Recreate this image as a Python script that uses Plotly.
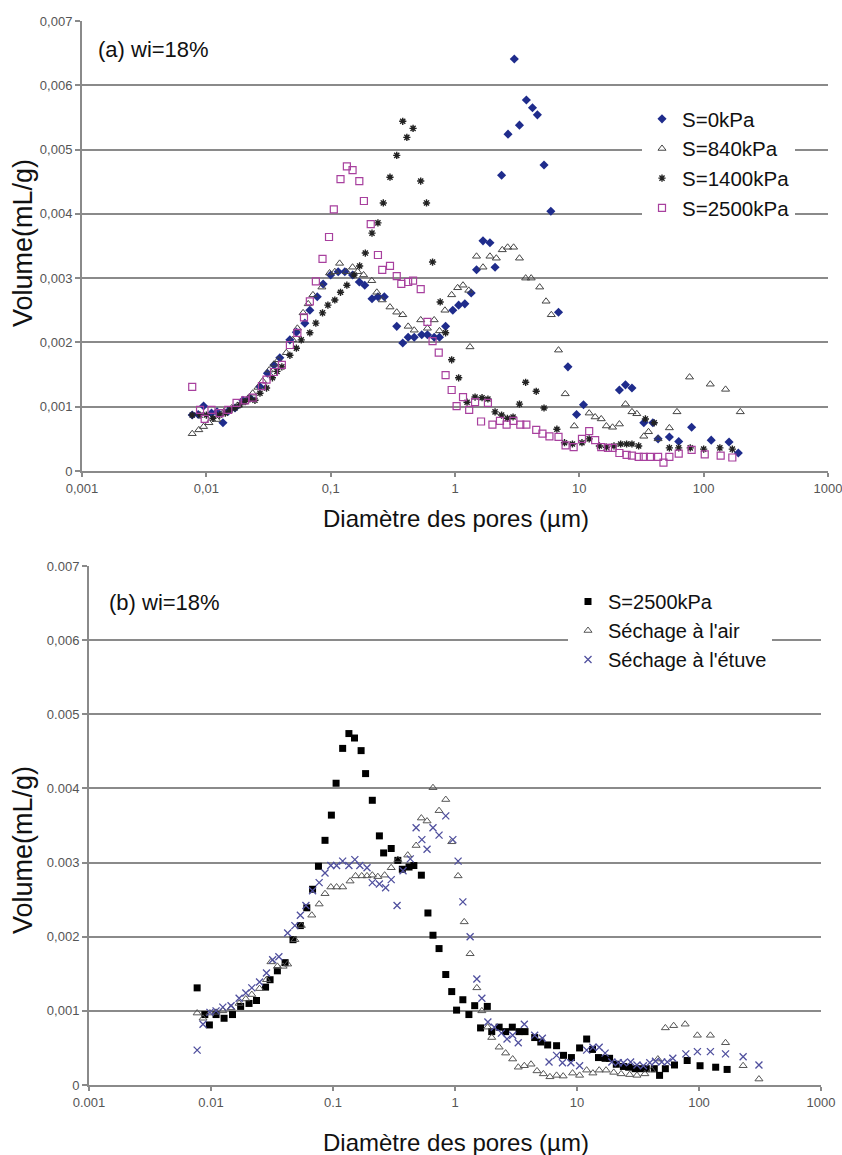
import numpy as np
import plotly.graph_objects as go

# ---------------- Data (volume values in 10^-3 mL/g) ----------------
# (a) S = 0 kPa
s0_d = [0.0077, 0.0086, 0.0095, 0.011, 0.0122, 0.0136, 0.015, 0.017, 0.0197, 0.0224, 0.027, 0.031, 0.035,
        0.039, 0.047, 0.053, 0.062, 0.068, 0.078, 0.087, 0.1, 0.115, 0.13, 0.15, 0.17, 0.188, 0.215, 0.24,
        0.27, 0.34, 0.38, 0.42, 0.47, 0.54, 0.6, 0.68, 0.75, 0.84, 0.96, 1.07, 1.2, 1.35, 1.49, 1.68, 1.91,
        2.1, 2.37, 2.67, 3.0, 3.3, 3.75, 4.2, 4.6, 5.2, 5.9, 6.8, 8.1, 9.5, 10.8, 21, 23.5, 26.5, 33, 39,
        43, 53, 63, 80, 115, 160, 190]
s0_v = [0.87, 0.88, 1.01, 0.90, 0.92, 0.75, 0.93, 0.98, 1.10, 1.14, 1.31, 1.52, 1.65,
        1.76, 2.04, 2.16, 2.30, 2.50, 2.71, 2.91, 3.05, 3.10, 3.10, 3.05, 2.94, 2.89, 2.68, 2.71,
        2.71, 2.25, 1.99, 2.08, 2.08, 2.12, 2.12, 2.08, 2.08, 2.25, 2.50, 2.58, 2.60, 2.77, 3.13, 3.58, 3.55,
        3.17, 4.60, 5.24, 6.41, 5.38, 5.77, 5.65, 5.54, 4.76, 4.04, 2.47, 1.62, 0.88, 1.03, 1.26, 1.34, 1.29, 0.75, 0.75,
        0.50, 0.53, 0.46, 0.68, 0.48, 0.45, 0.28]

# (a) S = 840 kPa
s840_d = [0.0077, 0.0087, 0.0095, 0.0105, 0.0121, 0.0138, 0.016, 0.0178, 0.0197, 0.0216, 0.0236, 0.026,
          0.0284, 0.032, 0.035, 0.038, 0.044, 0.0495, 0.054, 0.06, 0.066, 0.072, 0.085, 0.098, 0.108,
          0.118, 0.134, 0.15, 0.165, 0.184, 0.214, 0.235, 0.26, 0.3, 0.34, 0.38, 0.42, 0.47, 0.53, 0.6,
          0.68, 0.75, 0.83, 0.94, 1.05, 1.16, 1.29, 1.32, 1.49, 1.68, 1.91, 2.15, 2.4, 2.65, 2.96, 3.3, 3.7,
          4.1, 4.8, 5.4, 5.95, 6.8, 7.7, 9.1, 12, 13.4, 15, 16.5, 18.5, 21, 23.5, 26.5, 29, 33, 36, 43,
          53, 61, 77, 113, 150, 197]
s840_v = [0.58, 0.64, 0.69, 0.75, 0.80, 0.92, 0.98, 1.02, 1.07, 1.13, 1.21, 1.30,
          1.40, 1.57, 1.66, 1.73, 1.84, 2.04, 2.22, 2.46, 2.60, 2.74, 2.86, 3.08, 3.10,
          3.23, 3.10, 3.17, 3.10, 3.05, 2.96, 2.78, 2.66, 2.55, 2.47, 2.43, 2.25, 2.19, 2.35, 2.22,
          2.35, 2.18, 2.50, 2.74, 2.85, 2.89, 2.81, 1.93, 3.34, 3.17, 3.34, 3.31, 3.44, 3.48, 3.48, 3.31, 3.00,
          3.00, 2.86, 2.64, 2.43, 1.88, 1.20, 0.70, 0.90, 0.84, 0.81, 0.70, 0.68, 0.73, 1.04, 0.92, 0.89, 0.54, 0.61, 0.50,
          0.67, 0.92, 1.46, 1.35, 1.27, 0.92]

# (a) S = 1400 kPa
s1400_d = [0.0077, 0.0089, 0.01, 0.0113, 0.0128, 0.0142, 0.0155, 0.017, 0.0186, 0.0205, 0.0224, 0.0246,
           0.027, 0.0305, 0.034, 0.037, 0.0405, 0.047, 0.053, 0.058, 0.068, 0.076, 0.086, 0.095, 0.108,
           0.12, 0.135, 0.154, 0.171, 0.19, 0.215, 0.24, 0.265, 0.3, 0.34, 0.38, 0.41, 0.46, 0.53, 0.59,
           0.66, 0.76, 0.84, 0.94, 1.07, 1.25, 1.45, 1.65, 1.84, 2.1, 2.37, 2.64, 2.93, 3.3, 3.7, 4.5, 5.2,
           6.6, 7.6, 8.8, 10.5, 12, 14.5, 16.5, 19, 21.5, 24, 26.5, 30, 34, 40, 53, 63, 78, 100, 135, 170]
s1400_v = [0.87, 0.87, 0.87, 0.82, 0.87, 0.90, 0.95, 0.98, 1.03, 1.08, 1.12, 1.10,
           1.21, 1.29, 1.45, 1.55, 1.62, 1.80, 1.91, 2.04, 2.15, 2.30, 2.46, 2.58, 2.66,
           2.78, 2.89, 3.05, 3.19, 3.39, 3.70, 3.86, 4.17, 4.57, 4.91, 5.44, 5.19, 5.33, 4.51, 4.17,
           3.25, 2.63, 2.15, 1.73, 1.45, 1.07, 1.15, 1.14, 1.12, 0.92, 0.87, 0.82, 0.84, 1.04, 1.38, 1.24, 0.98,
           0.65, 0.44, 0.42, 0.44, 0.50, 0.39, 0.37, 0.39, 0.42, 0.42, 0.42, 0.39, 0.81, 0.75, 0.36, 0.36, 0.36, 0.34, 0.36, 0.34]

# S = 2500 kPa (same measurement in (a) and (b))
s2500_d = [0.0077, 0.0089, 0.0097, 0.011, 0.0128, 0.015, 0.0175, 0.0205, 0.0236, 0.028, 0.0305, 0.035,
           0.0405, 0.047, 0.054, 0.061, 0.068, 0.076, 0.086, 0.097, 0.106, 0.12, 0.135, 0.15, 0.17, 0.185,
           0.21, 0.24, 0.26, 0.3, 0.34, 0.37, 0.42, 0.46, 0.53, 0.6, 0.66, 0.74, 0.84, 0.94, 1.03, 1.16,
           1.3, 1.45, 1.62, 1.84, 2.0, 2.3, 2.6, 2.95, 3.35, 3.75, 4.5, 5.05, 5.75, 6.8, 7.75, 9, 10.5, 12,
           13.4, 15, 17, 18.5, 21, 24, 26.5, 30, 33, 37, 43, 47.5, 53, 63, 80, 102, 137, 170]
s2500_v = [1.31, 0.95, 0.81, 0.95, 0.90, 0.95, 1.06, 1.10, 1.14, 1.32, 1.42, 1.54,
           1.65, 1.96, 2.15, 2.39, 2.64, 2.95, 3.30, 3.64, 4.07, 4.54, 4.74, 4.68, 4.51, 4.20,
           3.84, 3.36, 3.13, 3.19, 3.03, 2.91, 2.94, 2.96, 2.83, 2.32, 2.02, 1.84, 1.49, 1.26, 1.01, 1.15,
           0.95, 1.07, 0.77, 1.06, 0.72, 0.78, 0.72, 0.78, 0.72, 0.72, 0.64, 0.58, 0.54, 0.53, 0.40, 0.37, 0.50, 0.62,
           0.48, 0.37, 0.36, 0.36, 0.28, 0.25, 0.24, 0.22, 0.22, 0.22, 0.22, 0.13, 0.22, 0.27, 0.33, 0.26, 0.24, 0.21]

# (b) Séchage à l'air
air_d = [0.0077, 0.0086, 0.0098, 0.011, 0.0125, 0.0146, 0.017, 0.0193, 0.0216, 0.025, 0.0285, 0.031,
         0.035, 0.039, 0.0425, 0.0487, 0.055, 0.067, 0.077, 0.086, 0.096, 0.107, 0.12, 0.138, 0.153, 0.172,
         0.19, 0.21, 0.233, 0.265, 0.3, 0.34, 0.41, 0.48, 0.53, 0.59, 0.66, 0.74, 0.84, 0.94, 1.06, 1.19,
         1.33, 1.51, 1.66, 1.85, 2.0, 2.3, 2.6, 2.97, 3.3, 3.7, 4.2, 4.7, 5.3, 6.0, 6.8, 7.7, 9.2, 10.5, 12,
         13.5, 15.2, 17.3, 20, 23, 27, 31, 36, 41, 46, 53, 62, 77, 97, 124, 165, 230, 310]
air_v = [0.97, 0.90, 0.97, 0.98, 1.00, 1.04, 1.10, 1.16, 1.22, 1.30, 1.42, 1.66,
         1.60, 1.60, 1.63, 1.96, 2.15, 2.29, 2.44, 2.58, 2.67, 2.67, 2.67, 2.75, 2.82, 2.82,
         2.82, 2.83, 2.81, 2.83, 2.93, 3.04, 3.10, 3.23, 3.60, 3.56, 4.01, 3.70, 3.85, 3.28, 2.82, 2.20,
         1.77, 1.31, 1.00, 0.78, 0.64, 0.51, 0.43, 0.35, 0.24, 0.26, 0.28, 0.19, 0.15, 0.11, 0.13, 0.12, 0.16, 0.13, 0.20,
         0.16, 0.20, 0.20, 0.17, 0.15, 0.14, 0.13, 0.15, 0.20, 0.35, 0.77, 0.80, 0.82, 0.67, 0.67, 0.57, 0.26, 0.08]

# (b) Séchage à l'étuve
etuve_d = [0.0077, 0.0086, 0.0098, 0.011, 0.0125, 0.0146, 0.017, 0.0193, 0.0216, 0.025, 0.0285, 0.032,
           0.036, 0.0425, 0.0487, 0.054, 0.06, 0.068, 0.077, 0.086, 0.096, 0.107, 0.12, 0.135, 0.151, 0.166,
           0.19, 0.21, 0.24, 0.27, 0.3, 0.335, 0.375, 0.43, 0.48, 0.535, 0.59, 0.66, 0.74, 0.84, 0.96, 1.06,
           1.16, 1.33, 1.51, 1.66, 1.86, 2.1, 2.4, 2.67, 2.97, 3.3, 3.7, 4.5, 5.2, 5.9, 6.8, 7.6, 8.9, 10.5,
           12, 13.5, 15.2, 17, 19.3, 21.8, 24, 27.5, 31, 35, 39.5, 44, 49.5, 55, 61, 78, 97, 124, 165, 230, 310]
etuve_v = [0.47, 0.82, 0.98, 1.00, 1.05, 1.07, 1.17, 1.24, 1.31, 1.39, 1.51, 1.69,
           1.73, 2.05, 2.15, 2.29, 2.42, 2.62, 2.73, 2.86, 2.96, 2.96, 3.02, 2.96, 3.04, 2.96,
           2.93, 2.73, 2.71, 2.66, 2.77, 2.42, 2.89, 3.05, 3.47, 3.31, 3.18, 3.47, 3.37, 3.63, 3.31, 3.02,
           2.47, 2.00, 1.43, 1.17, 0.85, 0.78, 0.70, 0.62, 0.67, 0.57, 0.82, 0.67, 0.63, 0.31, 0.40, 0.30, 0.30, 0.26,
           0.47, 0.51, 0.51, 0.43, 0.31, 0.30, 0.30, 0.31, 0.27, 0.26, 0.30, 0.32, 0.31, 0.31, 0.36, 0.42, 0.45, 0.45, 0.42, 0.38, 0.27]

x_tickvals = [0.001, 0.01, 0.1, 1, 10, 100, 1000]
x_ticktext_a = ["0,001", "0,01", "0,1", "1", "10", "100", "1000"]
x_ticktext_b = ["0.001", "0.01", "0.1", "1", "10", "100", "1000"]
y_tickvals = [0, 0.001, 0.002, 0.003, 0.004, 0.005, 0.006, 0.007]
y_ticktext_a = ["0", "0,001", "0,002", "0,003", "0,004", "0,005", "0,006", "0,007"]
y_ticktext_b = ["0", "0,001", "0,002", "0.003", "0.004", "0.005", "0,006", "0.007"]

x_title = "Diamètre des pores (µm)"
y_title = "Volume(mL/g)"

FONT = "Liberation Sans, Arial, sans-serif"
W, H = 842, 1155


def m(v):
    return np.array(v) * 1e-3


fig = go.Figure()

# ---- panel (a)
fig.add_trace(go.Scatter(x=s0_d, y=m(s0_v), mode="markers", name="S=0kPa", xaxis="x", yaxis="y",
                         legend="legend",
                         marker=dict(symbol="diamond", size=7, color="#1f2c8c")))
fig.add_trace(go.Scatter(x=s840_d, y=m(s840_v), mode="markers", name="S=840kPa", xaxis="x", yaxis="y",
                         legend="legend",
                         marker=dict(symbol="triangle-up-open", size=7, color="#444444",
                                     line=dict(width=1, color="#444444"))))
fig.add_trace(go.Scatter(x=s1400_d, y=m(s1400_v), mode="markers", name="S=1400kPa", xaxis="x", yaxis="y",
                         legend="legend",
                         marker=dict(symbol="asterisk-open", size=6, color="#222222",
                                     line=dict(width=1.4, color="#222222"))))
fig.add_trace(go.Scatter(x=s2500_d, y=m(s2500_v), mode="markers", name="S=2500kPa", xaxis="x", yaxis="y",
                         legend="legend",
                         marker=dict(symbol="square-open", size=7, color="#a8409e",
                                     line=dict(width=1.2, color="#a8409e"))))

# ---- panel (b)
fig.add_trace(go.Scatter(x=s2500_d, y=m(s2500_v), mode="markers", name="S=2500kPa", xaxis="x2", yaxis="y2",
                         legend="legend2",
                         marker=dict(symbol="square", size=7, color="#000000")))
fig.add_trace(go.Scatter(x=air_d, y=m(air_v), mode="markers", name="Séchage à l'air", xaxis="x2", yaxis="y2",
                         legend="legend2",
                         marker=dict(symbol="triangle-up-open", size=7, color="#555555",
                                     line=dict(width=1, color="#555555"))))
fig.add_trace(go.Scatter(x=etuve_d, y=m(etuve_v), mode="markers", name="Séchage à l'étuve", xaxis="x2",
                         yaxis="y2", legend="legend2",
                         marker=dict(symbol="x-thin-open", size=7, color="#50509e",
                                     line=dict(width=1.3, color="#50509e"))))


def xax(dom, anchor, ticktext):
    return dict(type="log", range=[-3, 3], domain=dom, anchor=anchor, automargin=False,
                tickvals=x_tickvals, ticktext=ticktext, ticklabeloverflow="allow",
                showgrid=False, zeroline=False, showline=True, linecolor="#8a8a8a", linewidth=2,
                ticks="outside", ticklen=4, tickwidth=1.5, tickcolor="#8a8a8a",
                tickfont=dict(family=FONT, size=13, color="#555555"))


def yax(dom, anchor, ticktext):
    return dict(range=[0, 0.007], domain=dom, anchor=anchor, automargin=False,
                tickvals=y_tickvals, ticktext=ticktext, ticklabeloverflow="allow",
                showgrid=True, gridcolor="#8a8a8a", gridwidth=1.6, zeroline=False,
                showline=True, linecolor="#8a8a8a", linewidth=2,
                ticks="outside", ticklen=5, tickwidth=1.5, tickcolor="#8a8a8a",
                tickfont=dict(family=FONT, size=13, color="#555555"))


fig.update_layout(
    width=W, height=H, margin=dict(l=0, r=0, t=0, b=0, autoexpand=False),
    paper_bgcolor="white", plot_bgcolor="white",
    font=dict(family=FONT, color="#111111"),
    xaxis=xax([82 / W, 828 / W], "y", x_ticktext_a),
    yaxis=yax([1 - 471 / H, 1 - 21 / H], "x", y_ticktext_a),
    xaxis2=xax([89 / W, 821 / W], "y2", x_ticktext_b),
    yaxis2=yax([1 - 1085 / H, 1 - 566 / H], "x2", y_ticktext_b),
    legend=dict(x=642 / W, y=1 - 99 / H, xanchor="left", yanchor="top", bgcolor="white",
                font=dict(family=FONT, size=20.5, color="#111111"), itemwidth=30,
                borderwidth=0, tracegroupgap=0),
    legend2=dict(x=568 / W, y=1 - 582 / H, xanchor="left", yanchor="top", bgcolor="white",
                 font=dict(family=FONT, size=20, color="#111111"), itemwidth=30,
                 borderwidth=0, tracegroupgap=0),
    showlegend=True,
)

ann = [
    dict(text="(a) wi=18%", x=96 / W, y=1 - 50 / H, xanchor="left", yanchor="middle",
         font=dict(size=22)),
    dict(text="(b) wi=18%", x=107 / W, y=1 - 602 / H, xanchor="left", yanchor="middle",
         font=dict(size=22)),
    dict(text=y_title, x=23 / W, y=1 - 243 / H, textangle=-90, xanchor="center", yanchor="middle",
         font=dict(size=27)),
    dict(text=y_title, x=23 / W, y=1 - 850 / H, textangle=-90, xanchor="center", yanchor="middle",
         font=dict(size=27)),
    dict(text=x_title, x=456 / W, y=1 - 518 / H, xanchor="center", yanchor="middle",
         font=dict(size=24)),
    dict(text=x_title, x=456 / W, y=1 - 1142 / H, xanchor="center", yanchor="middle",
         font=dict(size=24)),
]
for a in ann:
    a.update(xref="paper", yref="paper", showarrow=False)
    a["font"].update(family=FONT, color="#111111")
fig.update_layout(annotations=ann)

fig.write_html("out.html")
